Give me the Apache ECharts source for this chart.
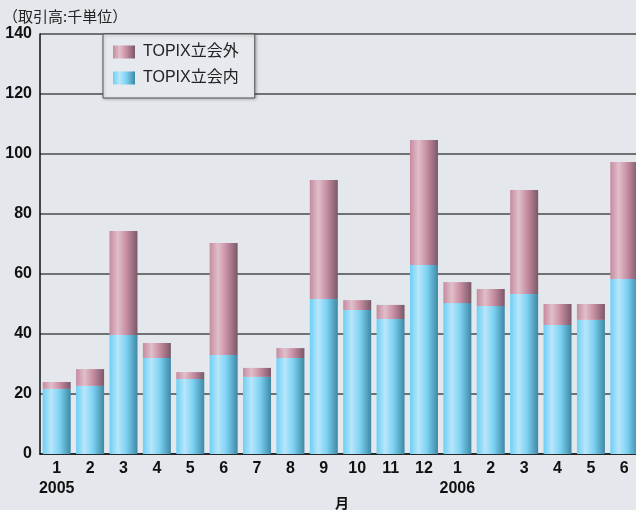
<!DOCTYPE html>
<html><head><meta charset="utf-8">
<script src="https://cdn.jsdelivr.net/npm/echarts@6/dist/echarts.min.js"></script>
<style>html,body{margin:0;padding:0;background:#e4e7eb}#c{width:636px;height:510px}</style>
</head><body><div id="c"></div>
<script>
const months = ['1','2','3','4','5','6','7','8','9','10','11','12','1','2','3','4','5','6'];
const years = {0:'2005', 12:'2006'};
const insideVals = [21.7,22.7,39.7,32,25,33,25.7,32,51.7,48,45,63,50.3,49.3,53.3,43,44.7,58.3];
const outsideVals = [2.3,5.6,34.6,5,2.3,37.3,3,3.3,39.6,3.3,4.7,41.7,7,5.7,34.7,7,5.3,39];
const seriesNames = ['TOPIX立会内','TOPIX立会外'];
const yTicks = {min:0, max:140, step:20};

function grad(l, h, m, r){
  return new echarts.graphic.LinearGradient(0,0,1,0,[
    {offset:0,color:l},{offset:0.3,color:h},{offset:0.6,color:m},{offset:1,color:r}]);
}
const chart = echarts.init(document.getElementById('c'));
const font = '"Liberation Sans", Arial, sans-serif';
const mixFont = '"Liberation Sans", "Noto Sans CJK JP", sans-serif';
chart.setOption({
  backgroundColor:'#e4e7eb',
  animation:false,
  grid:{left:40, top:34, right:-5, bottom:56, outerBoundsMode:'none', containLabel:false},
  title:{text:'（取引高:千単位）', left:3, top:9, padding:0,
    textStyle:{fontSize:15, fontWeight:'normal', color:'#222', fontFamily:'"Noto Sans CJK JP", sans-serif'}},
  graphic:[{type:'text', left:335, top:496,
    style:{text:'月', fontSize:14, fontWeight:'bold', fill:'#111', fontFamily:'"Noto Sans CJK JP", sans-serif'}}],
  legend:{
    data:[seriesNames[1], seriesNames[0]],
    orient:'vertical', left:103, top:34,
    padding:[10,16,12,10], itemGap:10, itemWidth:22, itemHeight:13,
    backgroundColor:'#e6e9ed', borderColor:'#555', borderWidth:1,
    shadowColor:'rgba(0,0,0,0.25)', shadowBlur:3, shadowOffsetX:1, shadowOffsetY:1,
    icon:'rect',
    textStyle:{fontSize:16, color:'#222', fontFamily:mixFont, padding:[0,0,0,3]}
  },
  xAxis:{
    type:'category', data:months,
    axisLine:{lineStyle:{color:'#111', width:1.5}},
    axisTick:{show:false},
    axisLabel:{interval:0, margin:5, fontSize:16, fontWeight:'bold', color:'#111', fontFamily:font, lineHeight:20,
      formatter:(v,i)=> years[i] ? v+'\n'+years[i] : v}
  },
  yAxis:{
    type:'value', min:yTicks.min, max:yTicks.max, interval:yTicks.step,
    axisLine:{show:true, lineStyle:{color:'#111', width:1.5}},
    axisTick:{show:false},
    axisLabel:{margin:8, fontSize:16, fontWeight:'bold', color:'#111', fontFamily:font},
    splitLine:{lineStyle:{color:'#4a4a4a', width:1.5}}
  },
  series:[
    {name:seriesNames[0], type:'bar', stack:'t', barWidth:28, data:insideVals,
     itemStyle:{color:grad('#6ccff6','#b8e6fa','#7dd2f3','#3d88a4')}},
    {name:seriesNames[1], type:'bar', stack:'t', barWidth:28, data:outsideVals,
     itemStyle:{color:grad('#c68aa0','#e0bfca','#c88ea3','#7a5868')}}
  ]
});
</script></body></html>
